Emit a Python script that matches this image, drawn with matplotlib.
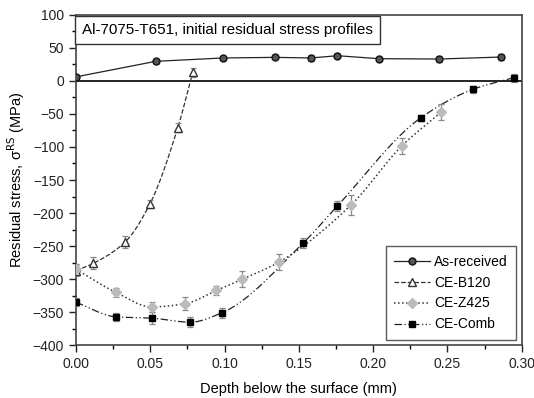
import numpy as np
import matplotlib
matplotlib.use('Agg')
import matplotlib.pyplot as plt
from matplotlib.ticker import MultipleLocator

plt.rcParams['font.family'] = ['Liberation Sans', 'DejaVu Sans']

# As-received
ar_x = [0.0, 0.0536, 0.0989, 0.134, 0.158, 0.176, 0.204, 0.2444, 0.286]
ar_y = [6, 29.5, 34.6, 35.5, 34.6, 38, 33.5, 33, 36]
ar_err = [3, 4, 3, 3, 4, 4, 3, 4, 4]

# CE-B120
b120_x = [0.0, 0.0117, 0.033, 0.0498, 0.0685, 0.0786]
b120_y = [-287, -276, -244, -186, -71, 13]
b120_err = [8, 9, 9, 6, 7, 7]

# CE-Z425
z425_x = [0.0, 0.0269, 0.051, 0.0736, 0.0945, 0.112, 0.1368, 0.185, 0.2195, 0.246]
z425_y = [-285, -320, -342, -337, -317, -300, -274, -188, -98, -47]
z425_err = [8, 7, 7, 10, 7, 12, 12, 15, 12, 12]

# CE-Comb
comb_x = [0.0, 0.027, 0.051, 0.077, 0.098, 0.153, 0.176, 0.232, 0.267, 0.295]
comb_y = [-335, -357, -359, -365, -351, -245, -189, -56, -13, 5]
comb_err = [6, 6, 9, 8, 8, 8, 8, 5, 5, 6]


def smooth(x, y, n=300):
    # monotone cubic (pchip-style) curve through the measured points
    x = np.asarray(x, float)
    y = np.asarray(y, float)
    h = np.diff(x)
    d = np.diff(y) / h
    m = np.zeros_like(y)
    for i in range(1, len(x) - 1):
        if d[i - 1] * d[i] > 0:
            w1 = 2 * h[i] + h[i - 1]
            w2 = h[i] + 2 * h[i - 1]
            m[i] = (w1 + w2) / (w1 / d[i - 1] + w2 / d[i])
    m[0] = d[0]
    m[-1] = d[-1]
    xs = np.linspace(x[0], x[-1], n)
    k = np.clip(np.searchsorted(x, xs) - 1, 0, len(h) - 1)
    t = (xs - x[k]) / h[k]
    h00 = 2 * t**3 - 3 * t**2 + 1
    h10 = t**3 - 2 * t**2 + t
    h01 = -2 * t**3 + 3 * t**2
    h11 = t**3 - t**2
    ys = h00 * y[k] + h10 * h[k] * m[k] + h01 * y[k + 1] + h11 * h[k] * m[k + 1]
    return xs, ys


fig = plt.figure(figsize=(5.34, 3.98), dpi=100)
ax = fig.add_axes([0.1423, 0.1324, 0.8347, 0.8306])

ax.axhline(0, color='black', linewidth=1.2, zorder=1)

err_kw = dict(ecolor='#888888', elinewidth=0.9, capsize=2.5, capthick=0.9, zorder=3)
dashdot = (0, (6, 2, 1, 2, 1, 2))

# As-received: straight segments
ax.errorbar(ar_x, ar_y, yerr=ar_err, fmt='none', **err_kw)
ax.plot(ar_x, ar_y, '-', color='#222222', linewidth=0.9, marker='o', markersize=5,
        markerfacecolor='#555555', markeredgecolor='#111111', zorder=4)

# CE-B120
xs, ys = smooth(b120_x, b120_y)
ax.plot(xs, ys, '--', color='#333333', linewidth=0.9, zorder=2)
ax.errorbar(b120_x, b120_y, yerr=b120_err, fmt='none', **err_kw)
ax.plot(b120_x, b120_y, linestyle='none', marker='^', markersize=6, markerfacecolor='white',
        markeredgecolor='#333333', zorder=4)

# CE-Z425
xs, ys = smooth(z425_x, z425_y)
ax.plot(xs, ys, ':', color='#333333', linewidth=1.1, zorder=2)
ax.errorbar(z425_x, z425_y, yerr=z425_err, fmt='none', **err_kw)
ax.plot(z425_x, z425_y, linestyle='none', marker='D', markersize=5, markerfacecolor='#bbbbbb',
        markeredgecolor='#bbbbbb', zorder=4)

# CE-Comb
xs, ys = smooth(comb_x, comb_y)
ax.plot(xs, ys, linestyle=dashdot, color='#222222', linewidth=0.9, zorder=2)
ax.errorbar(comb_x, comb_y, yerr=comb_err, fmt='none', **err_kw)
ax.plot(comb_x, comb_y, linestyle='none', marker='s', markersize=5, markerfacecolor='black',
        markeredgecolor='black', zorder=5)

# legend proxies
h_a = plt.Line2D([], [], linestyle='-', color='#222222', linewidth=0.9, marker='o', markersize=5,
                 markerfacecolor='#555555', markeredgecolor='#111111')
h_b = plt.Line2D([], [], linestyle='--', color='#333333', linewidth=0.9, marker='^', markersize=6,
                 markerfacecolor='white', markeredgecolor='#333333')
h_z = plt.Line2D([], [], linestyle=':', color='#333333', linewidth=1.1, marker='D', markersize=5,
                 markerfacecolor='#bbbbbb', markeredgecolor='#bbbbbb')
h_c = plt.Line2D([], [], linestyle=dashdot, color='#222222', linewidth=0.9, marker='s',
                 markersize=5, markerfacecolor='black', markeredgecolor='black')
leg = ax.legend([h_a, h_b, h_z, h_c], ['As-received', 'CE-B120', 'CE-Z425', 'CE-Comb'],
                loc='lower right', fontsize=10, frameon=True, fancybox=False, handlelength=2.6,
                handletextpad=0.3, borderpad=0.6, labelspacing=0.5, borderaxespad=0.4)
leg.get_frame().set_edgecolor('#333333')
leg.get_frame().set_linewidth(1.0)

ax.text(0.014, 0.975, 'Al-7075-T651, initial residual stress profiles', transform=ax.transAxes,
        fontsize=11, va='top', ha='left',
        bbox=dict(boxstyle='square,pad=0.45', facecolor='white', edgecolor='#333333', linewidth=1.0))

ax.set_xlim(0, 0.30)
ax.set_ylim(-400, 100)
ax.xaxis.set_major_locator(MultipleLocator(0.05))
ax.xaxis.set_minor_locator(MultipleLocator(0.025))
ax.yaxis.set_major_locator(MultipleLocator(50))
ax.yaxis.set_minor_locator(MultipleLocator(25))
ax.xaxis.set_major_formatter(plt.FormatStrFormatter('%.2f'))
ax.tick_params(which='major', direction='out', length=5, width=1.0, labelsize=10, colors='#222222')
ax.tick_params(which='minor', direction='out', length=3, width=1.0)
for s in ax.spines.values():
    s.set_linewidth(1.2)
    s.set_color('#444444')

ax.set_xlabel('Depth below the surface (mm)', fontsize=10.5, labelpad=8)
ax.set_ylabel('Residual stress, σ$^{\\rm RS}$ (MPa)', fontsize=10.5, labelpad=4)

fig.savefig('out.png', dpi=100)
